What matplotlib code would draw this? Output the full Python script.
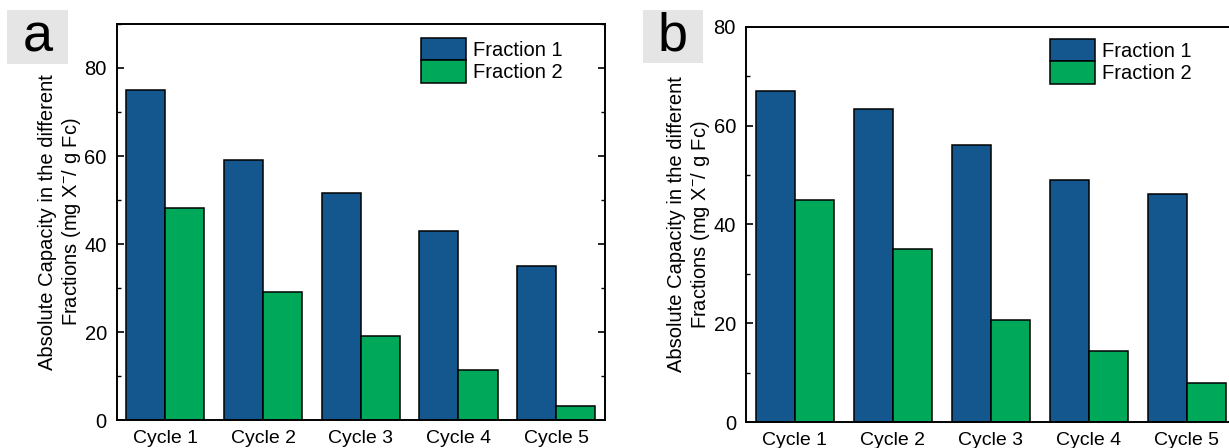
import numpy as np
import matplotlib
matplotlib.use("Agg")
import matplotlib.pyplot as plt
from matplotlib.ticker import MultipleLocator

plt.rcParams['font.family'] = ['Liberation Sans', 'DejaVu Sans']
plt.rcParams['mathtext.fontset'] = 'custom'
plt.rcParams['mathtext.rm'] = 'Liberation Sans'
plt.rcParams['mathtext.it'] = 'Liberation Sans:italic'

# Donnees
cycles = ['Cycle 1', 'Cycle 2', 'Cycle 3', 'Cycle 4', 'Cycle 5']
fraction1_a = [75.0, 59.0, 51.6, 43.0, 35.0]
fraction2_a = [48.1, 29.1, 19.2, 11.4, 3.2]
fraction1_b = [67.0, 63.3, 56.1, 48.9, 46.1]
fraction2_b = [45.0, 35.0, 20.6, 14.4, 8.0]

blue = '#13578e'
green = '#00a85a'
fs = 14
ylabel = 'Absolute Capacity in the different\nFractions (mg X$^{-}$/ g Fc)'

fig = plt.figure(figsize=(12.29, 4.48), dpi=100)
W, H = 1229, 448

def panel(rect_px, f1, f2, ymax, letter, box_px, leg_anchor):
    x0, y0, x1, y1 = rect_px
    ax = fig.add_axes([x0 / W, (H - y1) / H, (x1 - x0) / W, (y1 - y0) / H])
    x = np.arange(1, len(cycles) + 1)
    w = 0.4
    ax.bar(x - w / 2, f1, w, color=blue, edgecolor='black', linewidth=1.1, label='Fraction 1')
    ax.bar(x + w / 2, f2, w, color=green, edgecolor='black', linewidth=1.1, label='Fraction 2')
    ax.set_xlim(0.5, 5.5)
    ax.set_ylim(0, ymax)
    ax.set_xticks(x)
    ax.set_xticklabels(cycles, fontsize=fs)
    ax.yaxis.set_major_locator(MultipleLocator(20))
    ax.yaxis.set_minor_locator(MultipleLocator(10))
    ax.tick_params(axis='y', which='both', direction='in', left=True, right=True, labelsize=fs + 0.5, pad=7)
    ax.tick_params(axis='y', which='major', length=5, width=1.2)
    ax.tick_params(axis='y', which='minor', length=3, width=1.0)
    ax.tick_params(axis='x', length=0, pad=7)
    for s in ax.spines.values():
        s.set_linewidth(1.4)
    ax.set_ylabel(ylabel, fontsize=fs + 0.5, labelpad=1)
    ax.legend(loc='upper left', bbox_to_anchor=leg_anchor, frameon=False, fontsize=fs + 0.5,
              borderpad=0, borderaxespad=0, labelspacing=0, handlelength=2.25,
              handleheight=1.35, handletextpad=0.35)
    # etiquette du panneau
    bx0, by0, bx1, by1 = box_px
    fig.patches.append(plt.Rectangle((bx0 / W, (H - by1) / H), (bx1 - bx0) / W, (by1 - by0) / H,
                                     transform=fig.transFigure, facecolor='#e5e5e5',
                                     edgecolor='none', zorder=0))
    fig.text((bx0 + bx1) / 2 / W, (H - (by0 + by1) / 2) / H, letter, fontsize=39,
             ha='center', va='center')
    return ax

panel((116.5, 24, 605, 420), fraction1_a, fraction2_a, 90, 'a', (7, 10.5, 68, 64), (0.623, 0.965))
panel((745.7, 26.7, 1235.7, 422.3), fraction1_b, fraction2_b, 80, 'b', (642.7, 10, 702.7, 63.3), (0.621, 0.97))

plt.savefig('out.png', dpi=100)
